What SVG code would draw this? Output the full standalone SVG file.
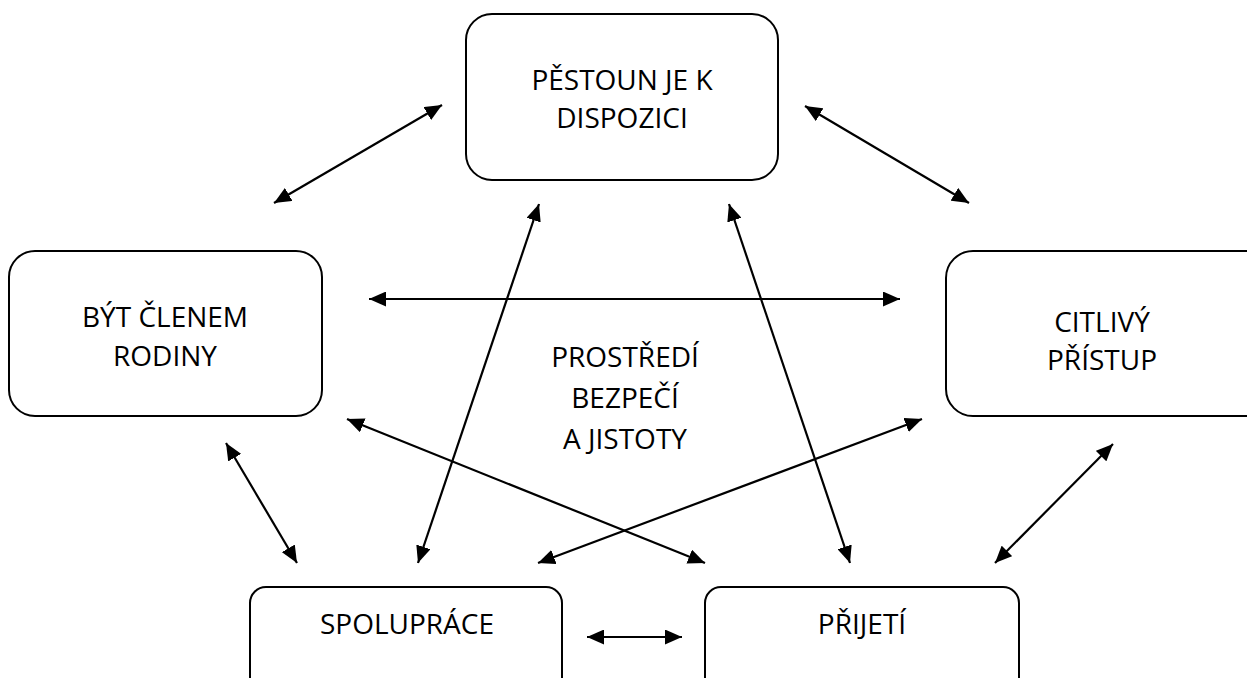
<svg xmlns="http://www.w3.org/2000/svg" width="1247" height="678" viewBox="0 0 1247 678">
<style>
.box{fill:#fff;stroke:#000;stroke-width:2}
.lbl{font-family:"Open Sans","Liberation Sans",sans-serif;font-size:28px;fill:#000;text-anchor:middle}
.con line{stroke:#000;stroke-width:2.2;marker-start:url(#ah);marker-end:url(#ah)}
</style>
<defs>
<marker id="ah" viewBox="0 0 17 15" refX="17" refY="7.5" markerWidth="17" markerHeight="15" markerUnits="userSpaceOnUse" orient="auto-start-reverse">
<path d="M0,0 L17,7.5 L0,15 z" fill="#000"/>
</marker>
</defs>
<rect width="1247" height="678" fill="#fff"/>
<g id="n-pestoun">
<rect class="box" x="466" y="14" width="312" height="166" rx="26"/>
<text class="lbl" x="622" y="90">PĚSTOUN JE K</text>
<text class="lbl" x="622" y="128">DISPOZICI</text>
</g>
<g id="n-clen">
<rect class="box" x="9" y="251" width="313" height="165" rx="26"/>
<text class="lbl" x="165" y="327">BÝT ČLENEM</text>
<text class="lbl" x="165" y="366">RODINY</text>
</g>
<g id="n-citlivy">
<rect class="box" x="946" y="251" width="330" height="165" rx="27"/>
<text class="lbl" x="1102" y="332">CITLIVÝ</text>
<text class="lbl" x="1102" y="370">PŘÍSTUP</text>
</g>
<g id="n-spoluprace">
<rect class="box" x="250" y="587" width="312" height="130" rx="16"/>
<text class="lbl" x="407" y="634">SPOLUPRÁCE</text>
</g>
<g id="n-prijeti">
<rect class="box" x="705" y="587" width="314" height="130" rx="16"/>
<text class="lbl" x="862" y="634">PŘIJETÍ</text>
</g>
<g id="center">
<text class="lbl" x="625" y="367">PROSTŘEDÍ</text>
<text class="lbl" x="625" y="408">BEZPEČÍ</text>
<text class="lbl" x="625" y="449">A JISTOTY</text>
</g>
<g id="connectors" class="con">
<line x1="274" y1="203" x2="442" y2="105"/>
<line x1="805" y1="106" x2="969" y2="203"/>
<line x1="369" y1="299" x2="900" y2="299"/>
<line x1="539" y1="204" x2="418" y2="563"/>
<line x1="729" y1="204" x2="850" y2="563"/>
<line x1="347" y1="419" x2="705" y2="563"/>
<line x1="922" y1="419" x2="538" y2="563"/>
<line x1="226" y1="443" x2="297" y2="563"/>
<line x1="1113" y1="444" x2="995" y2="563"/>
<line x1="587" y1="637" x2="682" y2="637"/>
</g>
</svg>
